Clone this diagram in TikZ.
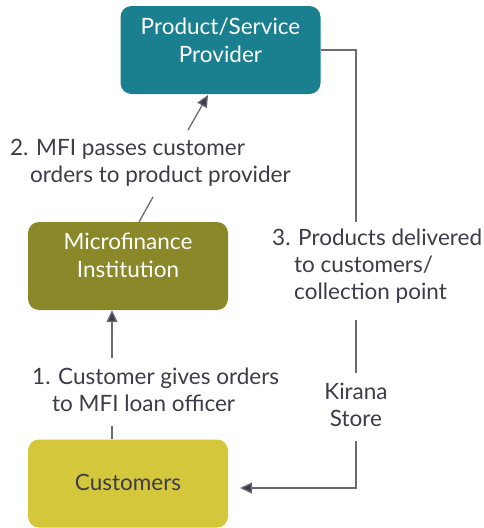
\documentclass[tikz,border=0pt]{standalone}
\usepackage{fontspec}
\setmainfont{Lato}
\usetikzlibrary{arrows.meta}
\definecolor{tealbox}{HTML}{1A7F8E}
\definecolor{olivebox}{HTML}{8A8829}
\definecolor{yellowbox}{HTML}{D5C73B}
\definecolor{txt}{HTML}{3C3C4B}
\definecolor{ln}{HTML}{6B6B76}
\begin{document}
\begin{tikzpicture}[x=1pt,y=-1pt,
  box/.style={draw=none,rounded corners=11pt,minimum width=200pt,minimum height=88pt,inner sep=0pt},
  boxtext/.style={font=\fontsize{22.5}{27.5}\selectfont,align=center,inner sep=0pt,anchor=base},
  lbl/.style={font=\fontsize{22.5}{27}\selectfont,text=txt,align=left,inner sep=0pt,anchor=base west},
  conn/.style={draw=ln,line width=1.3pt},
  tip/.style={-{Triangle[length=12pt,width=11pt,fill=txt]}}]
\useasboundingbox (0,0) rectangle (483,528);
% boxes
\node[box,fill=tealbox] (prov) at (220.5,50) {};
\node[boxtext,text=white] (provt) at (220.5,62) {Product/Service\\Provider};
\node[box,fill=olivebox] (mfi) at (128,266) {};
\node[boxtext,text=white] (mfit) at (128,277) {Microfinance\\Institution};
\node[box,fill=yellowbox] (cust) at (128,483.5) {};
\node[boxtext,text=txt] (custt) at (128,490) {Customers};
% labels
\node[lbl] (l2) at (10,182) {2. MFI passes customer\\\hspace*{20pt}orders to product provider};
\node[lbl] (l1) at (32,411) {1. Customer gives orders\\\hspace*{20pt}to MFI loan officer};
\node[lbl] (l3) at (272,299) {3. Products delivered\\\hspace*{22pt}to customers/\\\hspace*{22pt}collection point};
\node[lbl,align=center,anchor=base] (kir) at (356,426) {Kirana\\Store};
% connector 1
\coordinate (c1a) at (112,426);
\coordinate (c1b) at (112,358);
\draw[conn] (cust.north -| c1a) -- (c1a);
\draw[conn,tip] (c1b) -- (mfi.south -| c1b);
% connector 2
\coordinate (c2a) at (139,222);
\coordinate (c2b) at (153,197);
\coordinate (c2c) at (188,130);
\coordinate (c2d) at (208,95);
\draw[conn] (c2a) -- (c2b);
\draw[conn,tip] (c2c) -- (c2d);
% connector 3
\coordinate (c3a) at (356,50);
\coordinate (c3b) at (356,222);
\coordinate (c3c) at (356,320);
\coordinate (c3d) at (356,373);
\coordinate (c3e) at (356,441);
\coordinate (c3f) at (356,488);
\coordinate (c3g) at (240,488);
\draw[conn] (prov.east |- c3a) -- (c3a) -- (c3b);
\draw[conn] (c3c) -- (c3d);
\draw[conn,tip] (c3e) -- (c3f) -- (c3g);
\end{tikzpicture}
\end{document}
